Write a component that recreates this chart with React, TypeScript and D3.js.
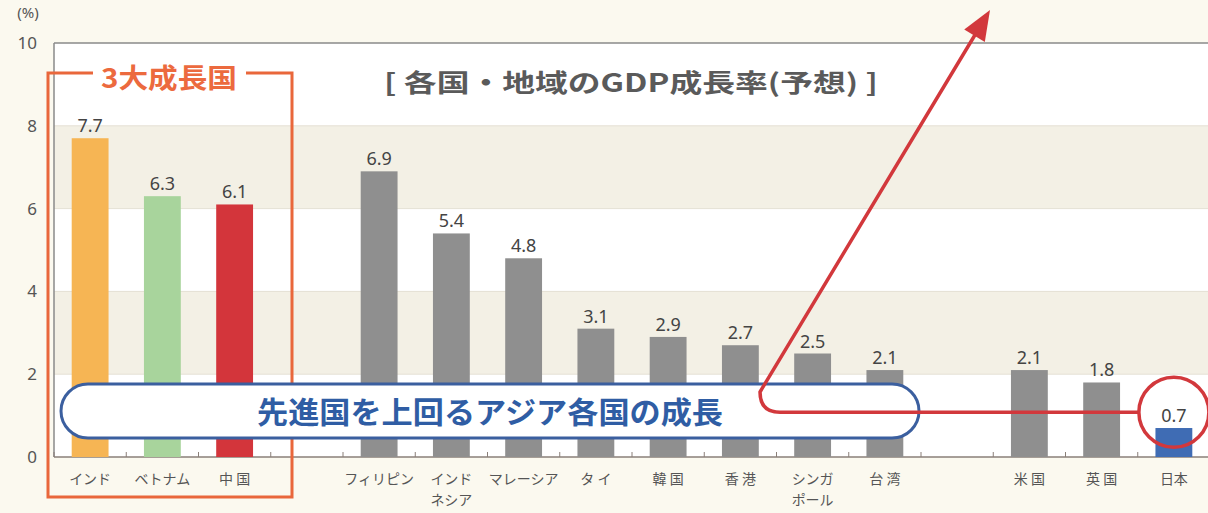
import React from "react";
import * as d3 from "d3";

const categories: string[] = [
  "インド", "ベトナム", "中 国", "", "フィリピン", "インド|ネシア", "マレーシア", "タ イ",
  "韓 国", "香 港", "シンガ|ポール", "台 湾", " ", "米 国", "英 国", "日本",
];
const values: (number | null)[] = [7.7, 6.3, 6.1, null, 6.9, 5.4, 4.8, 3.1, 2.9, 2.7, 2.5, 2.1, null, 2.1, 1.8, 0.7];
const valueLabels: string[] = ["7.7", "6.3", "6.1", "", "6.9", "5.4", "4.8", "3.1", "2.9", "2.7", "2.5", "2.1", "", "2.1", "1.8", "0.7"];
const barColors: string[] = [
  "#f6b554", "#a8d49c", "#d3353b", "none", "#8f8f8f", "#8f8f8f", "#8f8f8f", "#8f8f8f",
  "#8f8f8f", "#8f8f8f", "#8f8f8f", "#8f8f8f", "none", "#8f8f8f", "#8f8f8f", "#3f6cb4",
];
const yTicks: number[] = [0, 2, 4, 6, 8, 10];

const W = 1208;
const H = 513;
const FONT = "'Noto Sans CJK JP', 'Noto Sans', sans-serif";

export default function App() {
  const slots = categories.map((_, i) => String(i));
  const x = d3.scaleBand<string>().domain(slots).range([54, 1210]).paddingInner(0.49).paddingOuter(0.245);
  const y = d3.scaleLinear().domain([0, 10]).range([457, 43]);
  const step = x.step();
  const bw = x.bandwidth();
  const x0 = 54;

  // annotation geometry
  const jIdx = 15;
  const cx = (x(String(jIdx)) as number) + bw / 2;
  const cy = y(1.08);
  const r = 35;
  const tip: [number, number] = [990, 10];
  const start: [number, number] = [760, 392];
  const dx = tip[0] - start[0], dy = tip[1] - start[1];
  const len = Math.hypot(dx, dy);
  const ux = dx / len, uy = dy / len;
  const ah = 30, aw = 12;
  const bx = tip[0] - ux * ah, by = tip[1] - uy * ah;
  const px = -uy, py = ux;
  const arrowHead = `M${tip[0]},${tip[1]} L${bx + px * aw},${by + py * aw} L${bx - px * aw},${by - py * aw} Z`;
  const lineEnd: [number, number] = [tip[0] - ux * (ah - 4), tip[1] - uy * (ah - 4)];
  const redPath = `M${cx - r},${cy} L${start[0] + 20},${cy} Q${start[0]},${cy} ${start[0]},${start[1]} L${lineEnd[0]},${lineEnd[1]}`;

  const bands = [[8, 10, "#ffffff"], [6, 8, "#f3f0e5"], [4, 6, "#ffffff"], [2, 4, "#f3f0e5"], [0, 2, "#ffffff"]] as [number, number, string][];

  return (
    <svg width={W} height={H} style={{ position: "absolute", left: 0, top: 0, display: "block" }} fontFamily={FONT}>
      <rect x={0} y={0} width={W} height={H} fill="#fbf9ef" />
      {bands.map(([a, b, c], i) => (
        <rect key={i} x={x0} y={y(b)} width={W - x0} height={y(a) - y(b)} fill={c} />
      ))}
      {yTicks.slice(1, 5).map((t) => (
        <line key={t} x1={x0} x2={W} y1={y(t)} y2={y(t)} stroke="#e4e0d4" strokeWidth={1} />
      ))}
      <line x1={x0} x2={W} y1={y(10)} y2={y(10)} stroke="#8a8a8a" strokeWidth={1.5} />
      <line x1={x0} x2={x0} y1={y(10)} y2={y(0)} stroke="#8a8a8a" strokeWidth={1.5} />
      <line x1={x0} x2={W} y1={y(0)} y2={y(0)} stroke="#8a7f78" strokeWidth={1.5} />
      {slots.map((s, i) => (
        <line key={s} x1={x0 + step * i} x2={x0 + step * i} y1={y(0)} y2={y(0) - 5} stroke="#8a7f78" strokeWidth={1} />
      ))}
      {yTicks.map((t) => (
        <text key={t} x={37} y={y(t) + 6} textAnchor="end" fontSize={17} fill="#555" fontFamily="'Noto Sans', sans-serif">{t}</text>
      ))}
      <text x={28} y={18} textAnchor="middle" fontSize={15} fill="#555" fontFamily="'Noto Sans', sans-serif">(%)</text>

      {values.map((v, i) =>
        v == null ? null : (
          <rect key={i} x={x(String(i))} y={y(v)} width={bw} height={y(0) - y(v)} fill={barColors[i]} />
        )
      )}
      {values.map((v, i) =>
        v == null ? null : (
          <text key={i} x={(x(String(i)) as number) + bw / 2} y={y(v) - 6} textAnchor="middle" fontSize={18} fill="#444" fontFamily="'Noto Sans', sans-serif">{valueLabels[i]}</text>
        )
      )}
      {categories.map((c, i) => {
        const lines = c.split("|");
        return lines.map((l, j) => (
          <text key={`${i}-${j}`} x={(x(String(i)) as number) + bw / 2} y={484 + j * 21} textAnchor="middle" fontSize={14} fill="#555">{l}</text>
        ));
      })}

      {/* 3大成長国 box */}
      <path d="M93,73 L48,73 L48,497 L292,497 L292,73 L246,73" fill="none" stroke="#e9673b" strokeWidth={3} />
      <text x={169} y={88} textAnchor="middle" fontSize={27} fontWeight="bold" fill="#ec6a3e" textLength={136} lengthAdjust="spacingAndGlyphs">3大成長国</text>

      {/* title */}
      <text x={631} y={92} textAnchor="middle" fontSize={25} fontWeight="bold" fill="#5a5a5a" textLength={494} lengthAdjust="spacingAndGlyphs">[ 各国・地域のGDP成長率(予想) ]</text>

      {/* blue pill */}
      <rect x={61} y={384} width={858} height={54} rx={27} ry={27} fill="#ffffff" stroke="#3b5f9f" strokeWidth={3} />
      <text x={490} y={423} textAnchor="middle" fontSize={30} fontWeight="bold" fill="#2f5da4" textLength={466} lengthAdjust="spacingAndGlyphs">先進国を上回るアジア各国の成長</text>

      {/* red arrow */}
      <path d={redPath} fill="none" stroke="#d2383c" strokeWidth={3.5} strokeLinejoin="round" />
      <path d={arrowHead} fill="#d2383c" />
      <circle cx={cx} cy={cy} r={r} fill="none" stroke="#d2383c" strokeWidth={3.5} />
    </svg>
  );
}
